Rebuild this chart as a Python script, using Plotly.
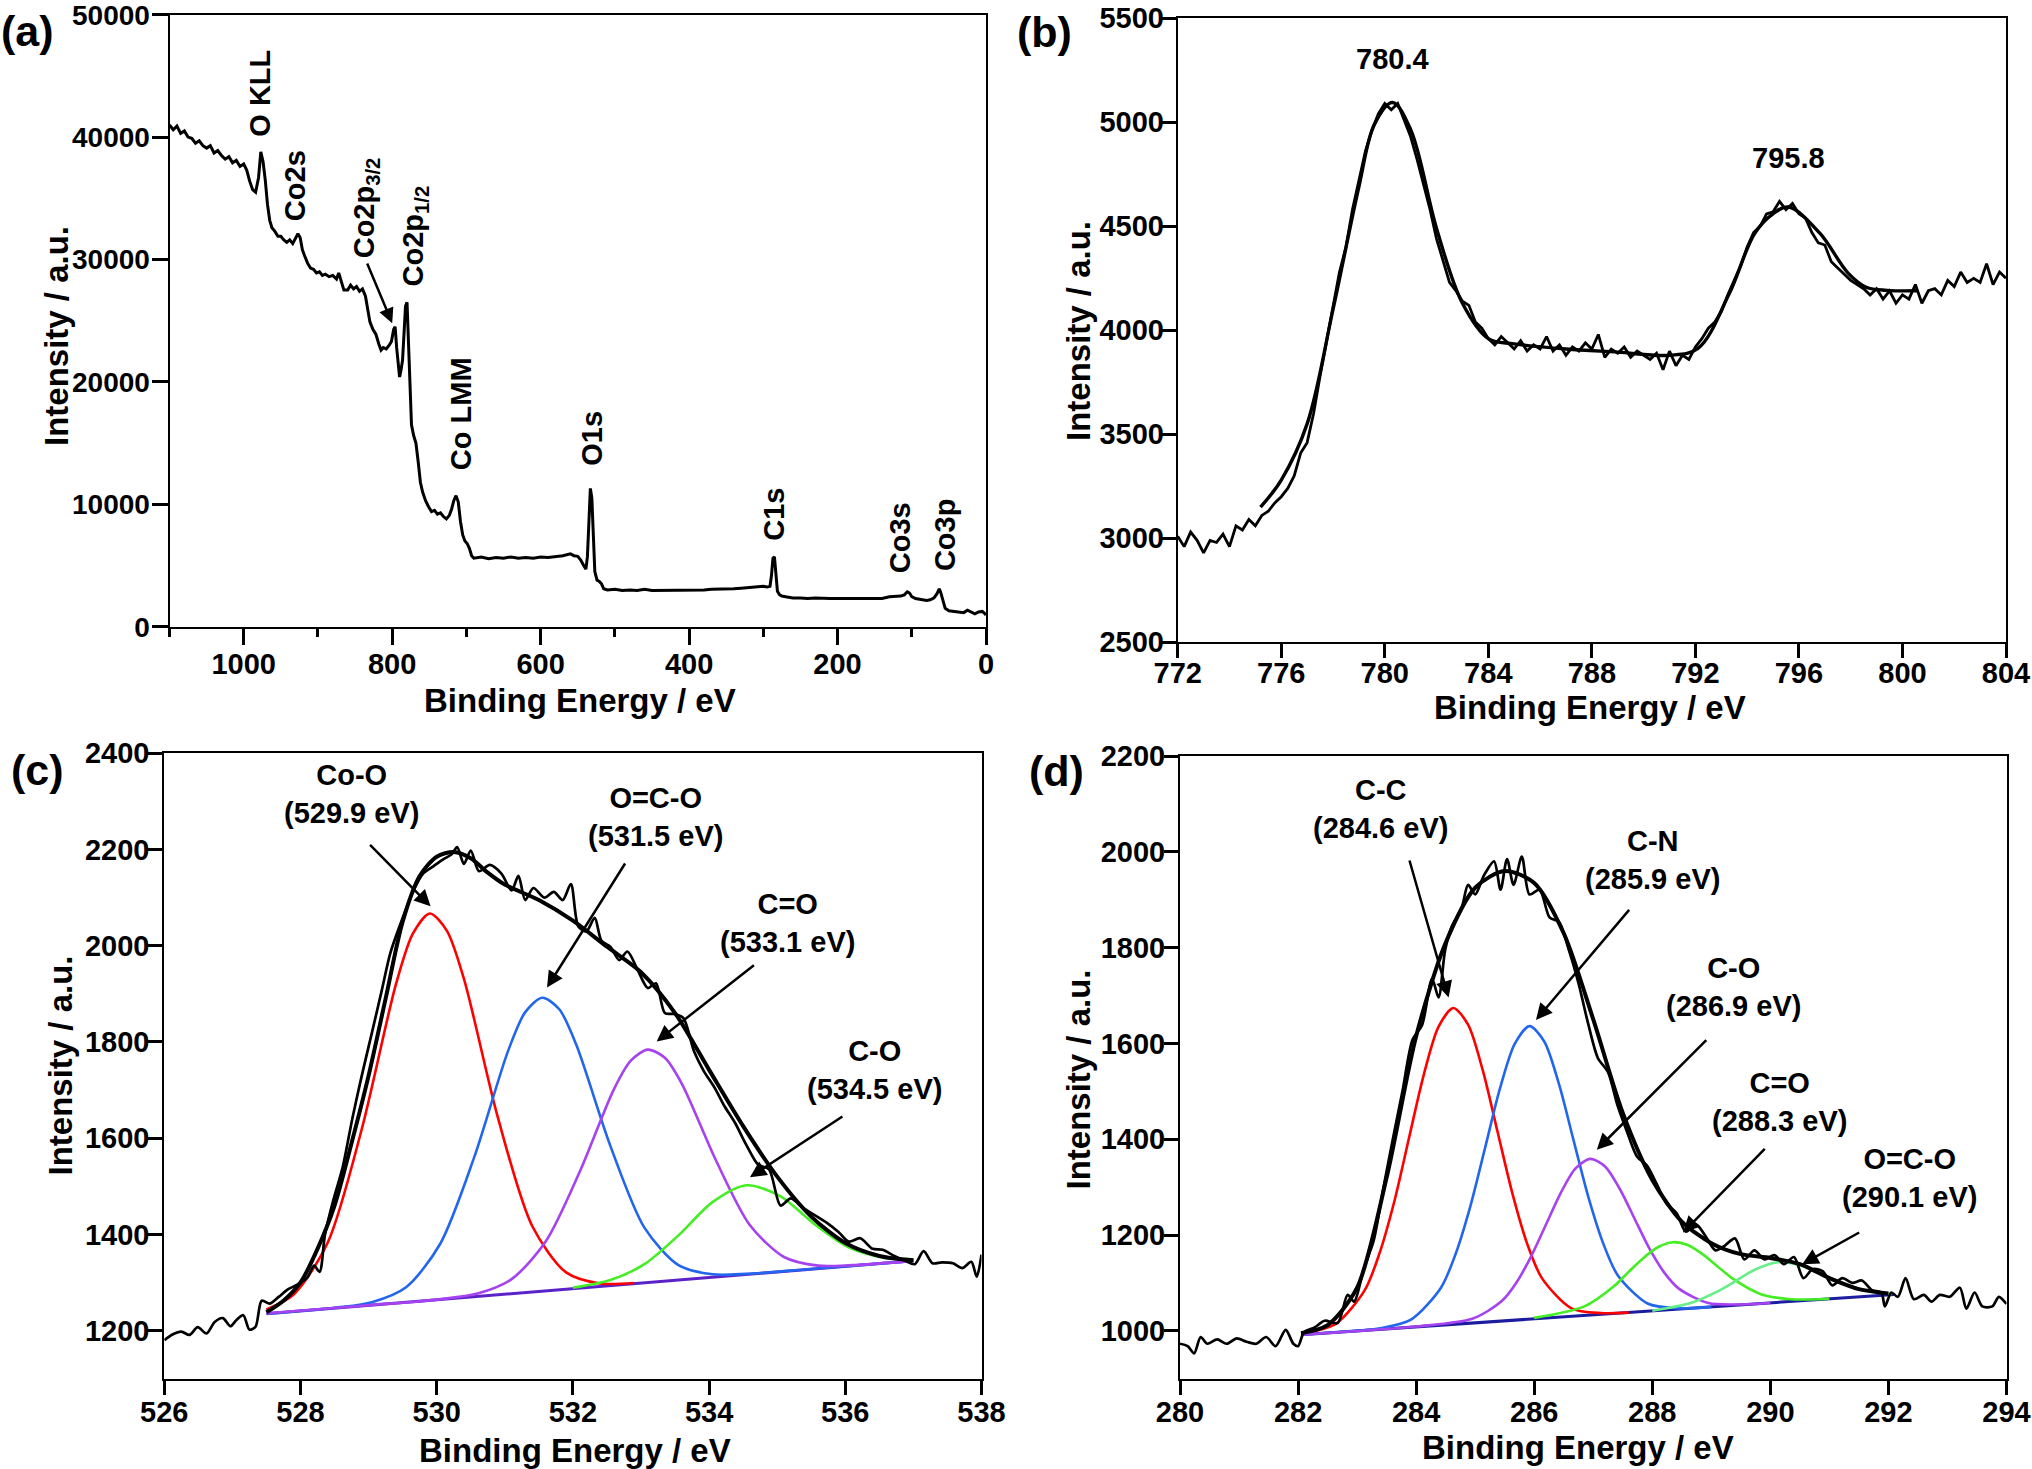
import plotly.graph_objects as go

# ---------------- (a) survey spectrum ----------------
survey_be = [1100, 1095, 1090, 1085, 1080, 1075, 1070, 1065, 1060, 1055, 1050, 1045, 1040, 1035, 1030,
             1025, 1020, 1015, 1010, 1005, 1000, 996, 992, 988, 984, 980, 977, 974, 971, 968, 965, 962,
             958, 954, 950, 946, 942, 938, 934, 930, 927, 924, 921, 918, 914, 910, 906, 902, 898, 894,
             890, 885, 880, 875, 872, 869, 865, 860, 856, 852, 848, 844, 840, 836, 833, 830, 826, 822,
             818, 815, 812, 808, 804, 801, 798, 796, 794, 792, 790, 788, 786, 784, 782, 780, 778, 776,
             774, 771, 768, 765, 762, 759, 755, 751, 747, 743, 739, 735, 731, 727, 723, 720, 717, 714,
             711, 708, 705, 702, 699, 696, 693, 690, 680, 670, 660, 650, 640, 630, 620, 610, 600, 590,
             580, 570, 560, 555, 550, 546, 542, 539, 537, 535, 533, 531, 529, 527, 524, 521, 518, 515,
             510, 500, 490, 480, 470, 460, 450, 440, 430, 420, 410, 400, 390, 380, 370, 360, 350, 340,
             330, 320, 310, 300, 295, 291, 289, 287, 285, 283, 281, 278, 275, 270, 260, 250, 240, 230,
             220, 210, 200, 190, 180, 170, 160, 150, 140, 130, 120, 115, 110, 106, 103, 100, 95, 90, 85,
             80, 75, 70, 66, 63, 61, 59, 57, 55, 50, 45, 40, 35, 30, 25, 20, 15, 10, 5, 2, 0]
survey_int = [41000, 40600, 40900, 40300, 40500, 40000, 39900, 39500, 39700, 39300, 39100, 39300, 38700,
              38900, 38500, 38200, 38400, 37900, 38100, 37600, 37800, 37300, 36400, 35700, 35500, 36700,
              38800, 38000, 36500, 34500, 33200, 32600, 32300, 31900, 31900, 31600, 31400, 31600, 31300,
              31700, 32100, 31800, 30800, 30300, 29700, 29300, 29200, 28900, 29000, 28700, 28800, 28600,
              28700, 28400, 28900, 28300, 27500, 27500, 27900, 27600, 27800, 27400, 27600, 27000, 25800,
              24900, 24300, 23900, 23100, 22600, 22800, 22700, 23000, 23300, 24300, 24500, 22800, 21300,
              20400, 21000, 21800, 24000, 26200, 26500, 23500, 19000, 16500, 15600, 15000, 13500, 11800,
              11000, 10300, 9800, 9400, 9500, 9200, 9300, 9000, 8800, 9100, 9600, 10300, 10700, 10200,
              8600, 7500, 7000, 6800, 6400, 5800, 5600, 5700, 5550, 5650, 5600, 5700, 5600, 5650, 5600,
              5700, 5650, 5700, 5800, 5950, 5800, 5750, 5450, 5000, 4700, 5700, 8500, 11300, 10500, 7000,
              4500, 3800, 3700, 3500, 3100, 3000, 3050, 2950, 3000, 2950, 3050, 2950, 2950, 3000, 2950,
              2950, 2950, 3000, 3000, 3050, 3050, 3100, 3100, 3150, 3200, 3250, 3300, 3250, 3300, 4200,
              5600, 5700, 4000, 2900, 2600, 2500, 2450, 2350, 2350, 2300, 2350, 2300, 2300, 2300, 2300,
              2350, 2300, 2300, 2350, 2300, 2450, 2450, 2500, 2600, 2850, 2750, 2450, 2300, 2250, 2150,
              2150, 2200, 2350, 2700, 3100, 2800, 2300, 1800, 1500, 1300, 1250, 1200, 1200, 1150, 1350,
              1200, 1050, 1200, 1250, 1100, 950]

survey_labels = ["O KLL", "Co2s", "Co2p<sub>3/2</sub>", "Co2p<sub>1/2</sub>", "Co LMM", "O1s", "C1s",
                 "Co3s", "Co3p"]
survey_label_be = [978, 930, 835, 769, 708, 530, 286, 116, 55]
survey_label_int = [43550, 36050, 34200, 31900, 17400, 15400, 9200, 7300, 7500]

# ---------------- (b) Co 2p ----------------
co2p_be = [772.0 + 0.25 * i for i in range(129)]
co2p_raw = [3010, 2960, 3030, 2990, 2930, 2990, 2980, 3020, 2960, 3060, 3040, 3090, 3060, 3110, 3130,
            3170, 3200, 3240, 3300, 3410, 3460, 3600, 3780, 3950, 4120, 4280, 4400, 4580, 4720, 4860,
            4960, 5040, 5090, 5060, 5090, 5010, 4930, 4820, 4700, 4580, 4440, 4330, 4230, 4190, 4140,
            4120, 4040, 4010, 3960, 3930, 3970, 3940, 3910, 3950, 3900, 3930, 3910, 3970, 3900, 3930,
            3880, 3920, 3900, 3940, 3910, 3980, 3870, 3910, 3890, 3920, 3870, 3900, 3880, 3860, 3890,
            3810, 3900, 3830, 3880, 3860, 3920, 3960, 4010, 4040, 4090, 4170, 4240, 4310, 4400, 4470,
            4500, 4560, 4570, 4620, 4580, 4610, 4560, 4540, 4470, 4420, 4410, 4330, 4300, 4270, 4240,
            4220, 4200, 4170, 4200, 4150, 4190, 4130, 4170, 4150, 4220, 4130, 4190, 4200, 4170, 4240,
            4210, 4280, 4230, 4250, 4230, 4320, 4220, 4280, 4250]
co2p_fit_be = [775.2, 776.0, 777.0, 778.0, 779.0, 779.6, 780.3, 781.0, 782.0, 783.0, 784.0, 785.0,
               787.0, 789.0, 791.0, 792.1, 793.3, 794.3, 795.0, 795.6, 796.8, 797.9, 798.6, 799.4, 800.6]
co2p_fit = [3150, 3280, 3550, 4100, 4690, 4990, 5095, 4965, 4490, 4130, 3960, 3935, 3910, 3895, 3880,
            3913, 4174, 4468, 4560, 4593, 4468, 4275, 4207, 4192, 4190]
co2p_peaks = ["780.4", "795.8"]
co2p_peak_be = [780.3, 795.6]
co2p_peak_int = [5305, 4830]

# ---------------- (c) O 1s ----------------
o1s_be = [526.00, 526.12, 526.25, 526.37, 526.49, 526.62, 526.74, 526.86, 526.97, 527.06, 527.16, 527.25,
          527.34, 527.43, 527.55, 527.68, 527.82, 527.96, 528.10, 528.20, 528.28, 528.36, 528.48, 528.62,
          528.76, 528.90, 529.05, 529.19, 529.32, 529.48, 529.66, 529.80, 529.95, 530.10, 530.22, 530.30,
          530.40, 530.50, 530.62, 530.78, 530.95, 531.10, 531.20, 531.30, 531.42, 531.58, 531.72, 531.85,
          531.97, 532.08, 532.20, 532.32, 532.42, 532.55, 532.68, 532.80, 532.95, 533.10, 533.22, 533.35,
          533.48, 533.62, 533.78, 533.92, 534.08, 534.22, 534.38, 534.55, 534.72, 534.88, 535.05, 535.20,
          535.38, 535.55, 535.72, 535.90, 536.05, 536.22, 536.40, 536.55, 536.72, 536.88, 537.02, 537.15,
          537.28, 537.42, 537.58, 537.72, 537.85, 537.93, 538.00]
o1s_raw = [1180, 1192, 1198, 1191, 1207, 1194, 1218, 1226, 1209, 1222, 1232, 1202, 1208, 1262, 1256, 1270,
           1286, 1296, 1310, 1335, 1322, 1400, 1470, 1540, 1640, 1730, 1820, 1905, 1985, 2050, 2115, 2150,
           2165, 2180, 2190, 2205, 2170, 2198, 2155, 2168, 2150, 2115, 2145, 2095, 2120, 2100, 2112, 2095,
           2128, 2040, 2030, 2058, 2010, 1998, 1970, 1988, 1950, 1912, 1922, 1860, 1858, 1850, 1780, 1740,
           1705, 1668, 1632, 1585, 1545, 1535, 1460, 1475, 1455, 1440, 1425, 1405, 1385, 1392, 1370, 1368,
           1355, 1345, 1338, 1365, 1340, 1342, 1340, 1330, 1343, 1312, 1358]
o1s_fit_be = [527.5, 527.75, 528.0, 528.25, 528.5, 528.75, 529.0, 529.25, 529.5, 529.75, 530.0, 530.25,
              530.5, 530.75, 531.0, 531.5, 532.0, 532.5, 533.0, 533.5, 534.0, 534.5, 535.0, 535.5, 536.0,
              536.5, 537.0]
o1s_fit = [1238, 1262, 1300, 1370, 1460, 1590, 1730, 1890, 2050, 2145, 2185, 2195, 2182, 2152, 2127, 2095,
           2052, 1998, 1945, 1860, 1742, 1625, 1520, 1437, 1382, 1355, 1346]
o1s_bg_be = [527.5, 537.0]
o1s_bg = [1235, 1345]
coo_be = [527.5, 527.9, 528.4, 528.9, 529.4, 529.65, 529.9, 530.15, 530.4, 530.9, 531.4, 531.9, 532.4, 532.9]
coo = [1244, 1275, 1383, 1619, 1919, 2025, 2067, 2031, 1931, 1642, 1418, 1321, 1298, 1299]
ococ_be = [527.5, 528.55, 529.05, 529.55, 530.05, 530.55, 531.05, 531.3, 531.55, 531.8, 532.05, 532.55,
           533.05, 533.55, 534.05, 534.55, 535.5, 537.0]
ococ = [1235, 1248, 1259, 1290, 1380, 1560, 1782, 1862, 1892, 1868, 1794, 1584, 1414, 1336, 1317, 1318,
        1328, 1345]
cdo_be = [527.5, 528.5, 529.1, 529.6, 530.1, 530.6, 531.1, 531.6, 532.1, 532.6, 532.85, 533.1, 533.35, 533.6,
          534.1, 534.6, 535.1, 535.6, 536.1, 537.0]
cdo = [1236, 1247, 1254, 1259, 1266, 1277, 1307, 1385, 1530, 1701, 1761, 1784, 1767, 1713, 1554, 1419, 1353,
       1335, 1336, 1345]
co_be = [532.0, 532.55, 533.05, 533.55, 534.05, 534.55, 535.05, 535.55, 536.05, 536.55, 537.0]
co = [1289, 1305, 1338, 1398, 1467, 1502, 1479, 1421, 1373, 1352, 1348]
o1s_names = ["Co-O<br>(529.9 eV)", "O=C-O<br>(531.5 eV)", "C=O<br>(533.1 eV)", "C-O<br>(534.5 eV)"]

# ---------------- (d) C 1s ----------------
c1s_be = [280.0, 280.13, 280.24, 280.35, 280.46, 280.63, 280.79, 280.96, 281.13, 281.29, 281.46, 281.62,
          281.79, 281.92, 282.0, 282.1, 282.28, 282.45, 282.67, 282.84, 282.95, 283.11, 283.28, 283.44,
          283.61, 283.77, 283.94, 284.1, 284.27, 284.38, 284.49, 284.6, 284.77, 284.88, 285.0, 285.15,
          285.32, 285.43, 285.54, 285.65, 285.79, 285.92, 286.09, 286.26, 286.42, 286.59, 286.75, 286.92,
          287.08, 287.25, 287.41, 287.58, 287.74, 287.91, 288.08, 288.24, 288.41, 288.57, 288.74, 288.9,
          289.07, 289.23, 289.4, 289.56, 289.73, 289.9, 290.07, 290.23, 290.4, 290.56, 290.72, 290.89,
          291.05, 291.22, 291.39, 291.55, 291.72, 291.88, 291.94, 292.05, 292.16, 292.29, 292.43, 292.6,
          292.73, 292.87, 293.04, 293.21, 293.32, 293.46, 293.59, 293.76, 293.87, 294.0]
c1s_raw = [973, 968, 953, 987, 973, 982, 973, 984, 977, 973, 987, 968, 1002, 973, 968, 997, 1007, 1021,
           1016, 1075, 1061, 1129, 1188, 1295, 1403, 1501, 1608, 1638, 1735, 1696, 1794, 1843, 1882, 1931,
           1911, 1951, 1980, 1921, 1985, 1931, 1990, 1911, 1921, 1863, 1853, 1794, 1726, 1638, 1569, 1540,
           1471, 1413, 1364, 1345, 1305, 1266, 1246, 1207, 1222, 1198, 1168, 1178, 1193, 1149, 1168, 1149,
           1158, 1139, 1154, 1110, 1129, 1124, 1095, 1110, 1100, 1105, 1085, 1080, 1051, 1080, 1071, 1110,
           1066, 1075, 1061, 1075, 1071, 1090, 1046, 1080, 1051, 1051, 1071, 1056]
c1s_fit_be = [282.05, 282.5, 283.0, 283.5, 284.0, 284.5, 285.0, 285.5, 286.0, 286.5, 287.0, 287.5, 288.0,
              288.5, 289.0, 289.5, 290.0, 290.5, 291.0, 291.5, 292.0]
c1s_fit = [995, 1012, 1090, 1320, 1615, 1810, 1925, 1960, 1935, 1830, 1650, 1455, 1315, 1228, 1183, 1160,
           1152, 1139, 1110, 1087, 1078]
c1s_bg_be = [282.05, 292.1]
c1s_bg = [992, 1076]
cc_be = [282.05, 282.63, 283.13, 283.38, 283.63, 283.88, 284.13, 284.38, 284.63, 284.88, 285.13, 285.38,
         285.63, 285.88, 286.13, 286.63, 287.13, 287.6]
cc = [994, 1014, 1085, 1162, 1270, 1403, 1535, 1635, 1674, 1639, 1543, 1415, 1287, 1182, 1110, 1047, 1037,
      1038]
cn_be = [282.05, 283.0, 283.42, 283.92, 284.42, 284.67, 284.92, 285.17, 285.42, 285.67, 285.92, 286.17,
         286.42, 286.67, 286.92, 287.17, 287.42, 287.92, 288.42, 289.0]
cn = [992, 1000, 1006, 1024, 1090, 1161, 1261, 1383, 1506, 1599, 1636, 1604, 1515, 1396, 1278, 1182, 1115,
      1057, 1047, 1050]
c_o_be = [282.05, 284.0, 284.95, 285.45, 285.7, 285.95, 286.2, 286.45, 286.7, 286.95, 287.2, 287.45, 287.7,
          287.95, 288.2, 288.45, 288.95, 289.45, 290.0]
c_o = [992, 1009, 1025, 1062, 1101, 1156, 1222, 1288, 1339, 1359, 1343, 1296, 1234, 1172, 1122, 1088, 1058,
       1055, 1058]
c_do_be = [286.0, 286.85, 287.35, 287.6, 287.85, 288.1, 288.35, 288.6, 288.85, 289.1, 289.35, 289.85,
           290.35, 290.85, 291.0]
c_do = [1027, 1051, 1093, 1123, 1152, 1175, 1185, 1179, 1160, 1135, 1110, 1076, 1066, 1066, 1067]
oco_be = [288.0, 288.65, 289.15, 289.4, 289.65, 289.9, 290.15, 290.4, 290.65, 290.9, 291.15, 291.65, 292.05]
oco = [1042, 1058, 1085, 1103, 1122, 1136, 1143, 1140, 1130, 1116, 1102, 1083, 1077]
c1s_names = ["C-C<br>(284.6 eV)", "C-N<br>(285.9 eV)", "C-O<br>(286.9 eV)", "C=O<br>(288.3 eV)",
             "O=C-O<br>(290.1 eV)"]

W, H = 2032, 1469
FONT = "Arial, Liberation Sans, Helvetica, sans-serif"


def px(x):
    return x / W


def py(y):
    return 1 - y / H


fig = go.Figure()

fig.add_trace(go.Scatter(x=survey_be, y=survey_int, mode="lines", line=dict(color="black", width=3),
                         xaxis="x", yaxis="y"))

fig.add_trace(go.Scatter(x=co2p_be, y=co2p_raw, mode="lines", line=dict(color="black", width=2.8),
                         xaxis="x2", yaxis="y2"))
fig.add_trace(go.Scatter(x=co2p_fit_be, y=co2p_fit, mode="lines", line=dict(color="black", width=3.4, shape="spline"),
                         xaxis="x2", yaxis="y2"))

for xs, ys, col, w in [(o1s_bg_be, o1s_bg, "#5a22c8", 3),
                       (coo_be, coo, "#ff0000", 2.6),
                       (ococ_be, ococ, "#2266ee", 2.6),
                       (cdo_be, cdo, "#a642f0", 2.6),
                       (co_be, co, "#44ee22", 2.6),
                       (o1s_be, o1s_raw, "black", 2.7),
                       (o1s_fit_be, o1s_fit, "black", 4)]:
    fig.add_trace(go.Scatter(x=xs, y=ys, mode="lines", line=dict(color=col, width=w, shape="spline", smoothing=0.8),
                             xaxis="x3", yaxis="y3"))

for xs, ys, col, w in [(c1s_bg_be, c1s_bg, "#1c1ca0", 3),
                       (cc_be, cc, "#ff0000", 2.6),
                       (cn_be, cn, "#2266ee", 2.6),
                       (c_o_be, c_o, "#a642f0", 2.6),
                       (c_do_be, c_do, "#44ee22", 2.6),
                       (oco_be, oco, "#66ee88", 2.6),
                       (c1s_be, c1s_raw, "black", 2.7),
                       (c1s_fit_be, c1s_fit, "black", 4)]:
    fig.add_trace(go.Scatter(x=xs, y=ys, mode="lines", line=dict(color=col, width=w, shape="spline", smoothing=0.8),
                             xaxis="x4", yaxis="y4"))


def axis(domain, rng, dtick, anchor, ticklen=14, minor=None, tick0=None, standoff=-7, size=29):
    d = dict(domain=domain, range=rng, dtick=dtick, anchor=anchor, showgrid=False, zeroline=False,
             automargin=False, showline=True, linecolor="black", linewidth=2, mirror=True, ticks="outside",
             ticklen=ticklen, tickwidth=2.5, tickcolor="black", tickformat="d", ticklabeloverflow="allow",
             tickprefix="<b>", ticksuffix="</b>", ticklabelstandoff=standoff,
             tickfont=dict(family=FONT, size=size, color="black", weight="bold"))
    if tick0 is not None:
        d["tick0"] = tick0
    if minor:
        d["minor"] = minor
    return d


fig.update_layout(
    width=W, height=H, margin=dict(l=0, r=0, t=0, b=0, autoexpand=False),
    paper_bgcolor="white", plot_bgcolor="white", showlegend=False,
    font=dict(family=FONT, color="black"),
    xaxis=axis([px(169.5), px(986)], [1100, 0], 200, "y", ticklen=16, standoff=-6,
               minor=dict(dtick=100, ticks="outside", ticklen=8, tickwidth=2.5, tickcolor="black"), tick0=0),
    yaxis=axis([py(626.7), py(14.7)], [0, 50000], 10000, "x", ticklen=16, standoff=-4, size=28),
    xaxis2=axis([px(1177.7), px(2006)], [772, 804], 4, "y2", tick0=772, standoff=-10),
    yaxis2=axis([py(642.3), py(18.3)], [2500, 5500], 500, "x2", standoff=-8),
    xaxis3=axis([px(164.3), px(981.5)], [526, 538], 2, "y3", tick0=526, standoff=-8),
    yaxis3=axis([py(1378.7), py(753.3)], [1100, 2400], 200, "x3", tick0=1200),
    xaxis4=axis([px(1180), px(2006.5)], [280, 294], 2, "y4", tick0=280, standoff=-8),
    yaxis4=axis([py(1378.7), py(756)], [900, 2200], 200, "x4", tick0=1000),
)

ann = []
bold = dict(family=FONT, size=29, color="black", weight="bold")
title_font = dict(family=FONT, size=33, color="black", weight="bold")

for letter, x, y in [("(a)", 27, 31), ("(b)", 1044, 32), ("(c)", 37, 770), ("(d)", 1056, 771)]:
    ann.append(dict(text="<b>" + letter + "</b>", x=px(x), y=py(y), xref="paper", yref="paper", showarrow=False,
                    font=dict(family=FONT, size=43, color="black", weight="bold"),
                    xanchor="center", yanchor="middle"))

for x, y in [(579.5, 701), (1590, 707), (574.5, 1450), (1577.6, 1447)]:
    ann.append(dict(text="<b>Binding Energy / eV</b>", x=px(x), y=py(y), xref="paper", yref="paper",
                    showarrow=False, font=title_font, xanchor="center", yanchor="middle"))
for x, y in [(56.5, 336.5), (1079, 331), (60, 1065.5), (1077.5, 1080)]:
    ann.append(dict(text="<b>Intensity / a.u.</b>", x=px(x), y=py(y), xref="paper", yref="paper",
                    showarrow=False, font=title_font, textangle=-90, xanchor="center", yanchor="middle"))

for t, x, y in zip(survey_labels, survey_label_be, survey_label_int):
    ann.append(dict(text="<b>" + t + "</b>", x=x, y=y, xref="x", yref="y", showarrow=False, font=bold,
                    textangle=-90, xanchor="center", yanchor="middle"))
ann.append(dict(text="", x=800, y=24800, ax=834.5, ay=29800, xref="x", yref="y", axref="x", ayref="y",
                showarrow=True, arrowhead=2, arrowsize=1.2, arrowwidth=2.5, arrowcolor="black"))

for t, x, y in zip(co2p_peaks, co2p_peak_be, co2p_peak_int):
    ann.append(dict(text="<b>" + t + "</b>", x=x, y=y, xref="x2", yref="y2", showarrow=False, font=bold,
                    xanchor="center", yanchor="middle"))

c_text_pos = [(528.75, 2315), (533.21, 2267), (535.15, 2048), (536.43, 1742)]
c_arrows = [(529.91, 2082, 529.0, 2213), (531.62, 1913, 532.78, 2174),
            (533.23, 1801, 534.68, 1962), (534.6, 1519, 535.98, 1647)]
for t, (x, y), (hx, hy, tx, ty) in zip(o1s_names, c_text_pos, c_arrows):
    ann.append(dict(text="<b>" + t + "</b>", x=x, y=y, xref="x3", yref="y3", showarrow=False, font=bold,
                    xanchor="center", yanchor="middle", align="center"))
    ann.append(dict(text="", x=hx, y=hy, ax=tx, ay=ty, xref="x3", yref="y3", axref="x3", ayref="y3",
                    showarrow=True, arrowhead=2, arrowsize=1.3, arrowwidth=2.5, arrowcolor="black"))

d_text_pos = [(283.39, 2090), (288.0, 1982), (289.37, 1718), (290.15, 1478), (292.36, 1320)]
d_arrows = [(284.55, 1696, 283.88, 1985), (286.03, 1649, 287.63, 1882), (287.06, 1378, 288.94, 1610),
            (288.52, 1205, 289.93, 1383), (290.54, 1139, 291.53, 1207)]
for t, (x, y), (hx, hy, tx, ty) in zip(c1s_names, d_text_pos, d_arrows):
    ann.append(dict(text="<b>" + t + "</b>", x=x, y=y, xref="x4", yref="y4", showarrow=False, font=bold,
                    xanchor="center", yanchor="middle", align="center"))
    ann.append(dict(text="", x=hx, y=hy, ax=tx, ay=ty, xref="x4", yref="y4", axref="x4", ayref="y4",
                    showarrow=True, arrowhead=2, arrowsize=1.3, arrowwidth=2.5, arrowcolor="black"))

fig.update_layout(annotations=ann)

fig.write_html("out.html", config={"displayModeBar": False},
               post_script="document.body.style.margin='0';document.body.style.overflow='hidden';")
